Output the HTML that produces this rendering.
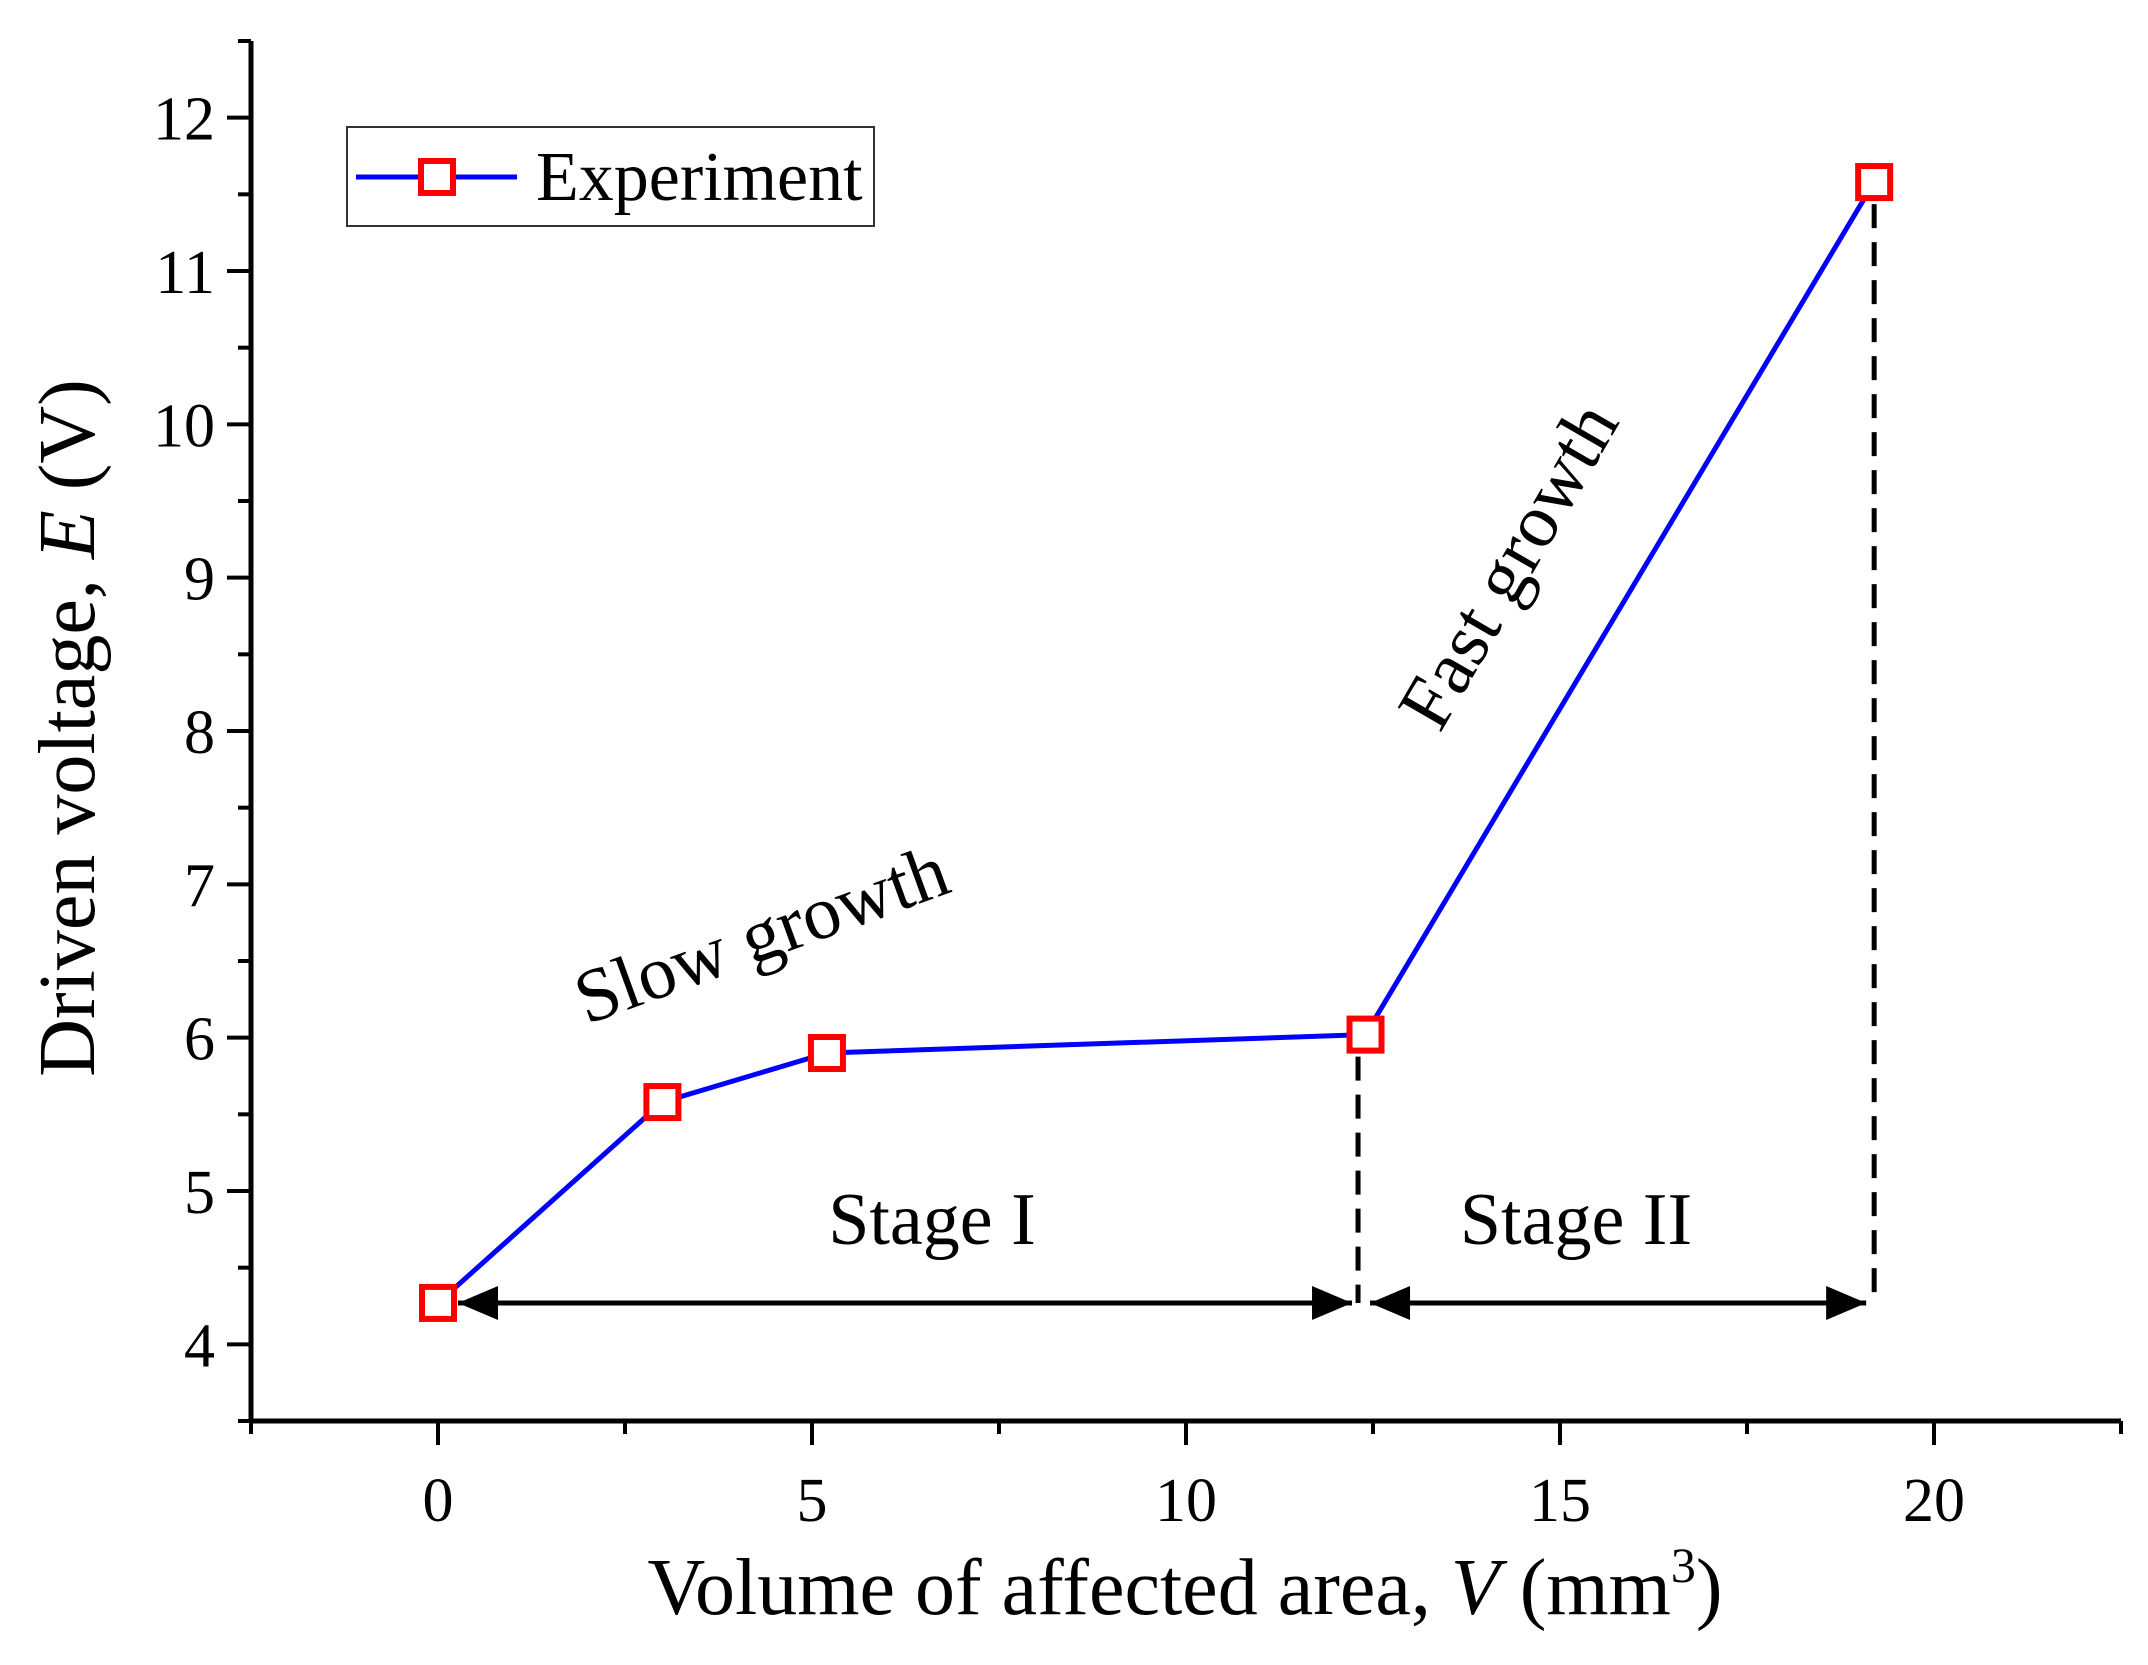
<!DOCTYPE html>
<html><head><meta charset="utf-8"><style>
html,body{margin:0;padding:0;background:#fff;}
svg{display:block;font-family:"Liberation Serif",serif;}
</style></head><body>
<svg id="chart" width="2148" height="1665" viewBox="0 0 2148 1665" xmlns="http://www.w3.org/2000/svg">
<g id="plot"></g>
</svg>
<script>
const xData = [0, 3, 5.2, 12.4, 19.2];
const yData = [4.27, 5.58, 5.9, 6.02, 11.58];
const xTicks = [0, 5, 10, 15, 20];
const yTicks = [4, 5, 6, 7, 8, 9, 10, 11, 12];
const stageBounds = [0, 12.3, 19.2];

const X0=251, X1=2121, Y0=1421, Y1=41;
const XMIN=-2.5, XMAX=22.5, YMIN=3.5, YMAX=12.5;
function sx(v){return X0+(v-XMIN)/(XMAX-XMIN)*(X1-X0);}
function sy(v){return Y0-(v-YMIN)/(YMAX-YMIN)*(Y0-Y1);}
const NS="http://www.w3.org/2000/svg";
const g=document.getElementById('plot');
function el(t,a,p){const e=document.createElementNS(NS,t);for(const k in a)e.setAttribute(k,a[k]);(p||g).appendChild(e);return e;}

let ax=el('line',{x1:X0-2,y1:Y0,x2:X1,y2:Y0,stroke:'#000','stroke-width':5});


let ay=el('line',{x1:X0,y1:Y0+2,x2:X0,y2:Y1,stroke:'#000','stroke-width':5});



for(let v=XMIN; v<=XMAX+0.001; v+=2.5){
  const major = xTicks.includes(v);
  let t=el('line',{x1:sx(v),y1:Y0,x2:sx(v),y2:Y0+(major?24:13),stroke:'#000','stroke-width':4});
  
  
}
xTicks.forEach(v=>{
  let t=el('text',{x:sx(v),y:Y0+100,'font-size':62,'text-anchor':'middle'});
  t.textContent=v;
  
  
});
for(let v=YMIN; v<=YMAX+0.001; v+=0.5){
  const major = yTicks.includes(v);
  let t=el('line',{x1:X0,y1:sy(v),x2:X0-(major?24:13),y2:sy(v),stroke:'#000','stroke-width':4});
  
  
}
yTicks.forEach(v=>{
  let t=el('text',{x:X0-36,y:sy(v)+22,'font-size':62,'text-anchor':'end'});
  t.textContent=v;
  
  
});

let xt=el('text',{x:1185,y:1614,'font-size':80,'text-anchor':'middle'});
xt.innerHTML='Volume of affected area, <tspan font-style="italic">V</tspan> (mm<tspan dy="-32" font-size="50">3</tspan><tspan dy="32">)</tspan>';


let yt=el('text',{x:0,y:0,'font-size':80,'text-anchor':'middle',transform:'translate(94,728) rotate(-90)'});
yt.innerHTML='Driven voltage, <tspan font-style="italic">E</tspan> (V)';



[3,4].forEach(i=>{
  let d=el('line',{x1:sx(stageBounds[i-2]),y1:sy(yData[i])+22,x2:sx(stageBounds[i-2]),y2:1303,stroke:'#000','stroke-width':5,'stroke-dasharray':'24,14'});
  
  
});

const ay0=1303;
let a1=el('line',{x1:sx(stageBounds[0])+20,y1:ay0,x2:sx(stageBounds[1])-6,y2:ay0,stroke:'#000','stroke-width':5});


let a2=el('line',{x1:sx(stageBounds[1])+12,y1:ay0,x2:sx(stageBounds[2])-8,y2:ay0,stroke:'#000','stroke-width':5});


[[sx(stageBounds[0])+20,1],[sx(stageBounds[1])-6,-1],[sx(stageBounds[1])+12,1],[sx(stageBounds[2])-8,-1]].forEach(([x,dir])=>{
  let p=el('polygon',{points:`${x},${ay0} ${x+dir*40},${ay0-17} ${x+dir*40},${ay0+17}`,fill:'#000'});
  
  
});

let s1=el('text',{x:932,y:1244,'font-size':74,'text-anchor':'middle'});
s1.textContent='Stage I';


let s2=el('text',{x:1576,y:1244,'font-size':74,'text-anchor':'middle'});
s2.textContent='Stage II';


let sg=el('text',{x:0,y:0,'font-size':76,'text-anchor':'middle',transform:'translate(770,958) rotate(-20)'});
sg.textContent='Slow growth';


let fg=el('text',{x:0,y:0,'font-size':76,'text-anchor':'middle',transform:'translate(1530,578) rotate(-60)'});
fg.textContent='Fast growth';



let pts=xData.map((x,i)=>sx(x)+','+sy(yData[i])).join(' ');
let ln=el('polyline',{points:pts,fill:'none',stroke:'#0000ff','stroke-width':5});


xData.forEach((x,i)=>{
  let r=el('rect',{x:sx(x)-16,y:sy(yData[i])-16,width:32,height:32,fill:'#fff',stroke:'#ff0000','stroke-width':6});
  
  
});

let lg=el('g',{});


el('rect',{x:347,y:127,width:527,height:99,fill:'#fff',stroke:'#333','stroke-width':2},lg);
el('line',{x1:356,y1:177,x2:517,y2:177,stroke:'#0000ff','stroke-width':5},lg);
el('rect',{x:421,y:161,width:32,height:32,fill:'#fff',stroke:'#ff0000','stroke-width':6},lg);
let lt=el('text',{x:536,y:200,'font-size':70},lg);
lt.textContent='Experiment';


</script>
</body></html>
